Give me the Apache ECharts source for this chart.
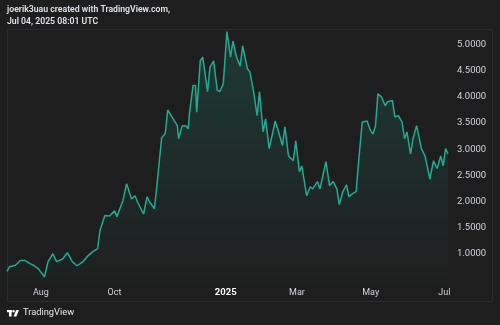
<!DOCTYPE html>
<html>
<head>
<meta charset="utf-8">
<style>
  html, body { margin: 0; padding: 0; background: #1e1e1e; }
  #chart { width: 500px; height: 325px; }
</style>
<script src="https://cdn.jsdelivr.net/npm/echarts@6/dist/echarts.min.js"></script>
</head>
<body>
<div id="chart"></div>
<script>
// Daily close samples, Jul 2024 – Jul 2025
const dates = [
  '2024-07-04','2024-07-06','2024-07-11','2024-07-15','2024-07-19','2024-07-23','2024-07-26','2024-07-30',
  '2024-08-04','2024-08-07','2024-08-11','2024-08-14','2024-08-19','2024-08-20','2024-08-23','2024-08-27','2024-08-31',
  '2024-09-05','2024-09-09','2024-09-13','2024-09-17','2024-09-19','2024-09-23','2024-09-27',
  '2024-10-01','2024-10-03','2024-10-06','2024-10-08','2024-10-11','2024-10-15','2024-10-18','2024-10-20','2024-10-25','2024-10-28','2024-10-30',
  '2024-11-03','2024-11-05','2024-11-09','2024-11-12','2024-11-14','2024-11-18','2024-11-22','2024-11-23','2024-11-26','2024-11-29',
  '2024-12-01','2024-12-02','2024-12-05','2024-12-07','2024-12-08','2024-12-11','2024-12-13','2024-12-17','2024-12-19','2024-12-22','2024-12-25','2024-12-27','2024-12-30',
  '2025-01-02','2025-01-05','2025-01-07','2025-01-10','2025-01-13','2025-01-15','2025-01-19','2025-01-21','2025-01-24','2025-01-27','2025-01-29',
  '2025-02-01','2025-02-03','2025-02-06','2025-02-11','2025-02-13','2025-02-17','2025-02-19','2025-02-22','2025-02-26','2025-02-28',
  '2025-03-03','2025-03-05','2025-03-09','2025-03-12','2025-03-14','2025-03-18','2025-03-20','2025-03-25','2025-03-28','2025-03-31',
  '2025-04-03','2025-04-05','2025-04-08','2025-04-11','2025-04-13','2025-04-16','2025-04-19','2025-04-21','2025-04-24','2025-04-28',
  '2025-05-01','2025-05-03','2025-05-05','2025-05-07','2025-05-10','2025-05-13','2025-05-15','2025-05-19','2025-05-21','2025-05-24','2025-05-27','2025-05-29','2025-05-31',
  '2025-06-03','2025-06-05','2025-06-08','2025-06-12','2025-06-15','2025-06-19','2025-06-22','2025-06-25','2025-06-28','2025-06-30',
  '2025-07-02','2025-07-04'
];
const prices = [
  0.66,0.75,0.78,0.87,0.87,0.81,0.78,0.71,
  0.56,0.85,1.00,0.85,0.90,0.87,1.02,0.85,0.77,
  0.85,0.96,1.04,1.10,1.45,1.73,1.72,
  1.82,1.71,1.90,2.02,2.34,2.05,2.11,1.99,1.76,2.09,1.99,
  1.86,2.29,3.22,3.30,3.75,3.60,3.45,3.20,3.45,3.45,
  3.39,3.68,4.22,4.22,3.71,4.70,4.76,4.10,4.57,4.69,4.13,4.10,4.25,
  5.25,4.76,5.07,4.76,4.59,4.98,4.54,4.48,4.12,3.64,4.10,
  3.33,3.58,3.01,3.54,3.39,3.07,3.43,2.87,2.78,3.16,
  2.57,2.68,2.11,2.28,2.24,2.38,2.24,2.76,2.30,2.38,
  2.24,1.94,2.19,2.32,2.09,2.15,2.19,2.76,3.52,3.54,
  3.35,3.29,3.45,4.06,4.00,3.83,3.91,3.93,3.62,3.64,3.52,3.20,3.33,
  2.91,3.20,3.45,3.01,2.87,2.43,2.78,2.63,2.87,2.68,
  3.01,2.9114
];
const priceTicks = [1.0, 1.5, 2.0, 2.5, 3.0, 3.5, 4.0, 4.5, 5.0];
const monthTicks = ['2024-08-01','2024-10-01','2025-01-01','2025-03-01','2025-05-01','2025-07-01'];
const monthLabels = ['Aug','Oct','2025','Mar','May','Jul'];

const ts = s => Date.parse(s + 'T00:00:00Z');
const lineColor = '#22ab94';
const textColor = '#d1d4dc';
const lastPrice = prices[prices.length - 1];
const tickTimes = monthTicks.map(ts);

const chart = echarts.init(document.getElementById('chart'), null, { renderer: 'canvas' });
chart.setOption({
  animation: false,
  backgroundColor: '#1e1e1e',
  grid: { left: 7, right: 52, top: 29, bottom: 42 },
  xAxis: {
    // linear timestamp scale, labelled at month starts
    type: 'value',
    min: ts(dates[0]),
    max: ts(dates[dates.length - 1]),
    axisLine: { show: false },
    axisTick: { show: false },
    splitLine: { show: false },
    axisLabel: {
      customValues: tickTimes,
      margin: 5,
      color: textColor,
      fontFamily: 'Roboto',
      fontSize: 9,
      formatter: function (v) {
        const i = tickTimes.indexOf(v);
        const t = i >= 0 ? monthLabels[i] : '';
        return /^\d{4}$/.test(t) ? '{y|' + t + '}' : t;
      },
      rich: { y: { fontWeight: 'bold', color: '#ffffff', fontFamily: 'Roboto', fontSize: 9.5 } }
    }
  },
  yAxis: {
    type: 'value',
    position: 'right',
    min: 0.44,
    max: 5.3,
    axisLine: { show: false },
    axisTick: { show: false },
    splitLine: { show: false },
    axisLabel: {
      customValues: priceTicks,
      margin: 9,
      color: textColor,
      fontFamily: 'Roboto',
      fontSize: 9.5,
      formatter: v => v.toFixed(4)
    }
  },
  series: [{
    type: 'line',
    data: dates.map((d, i) => [ts(d), prices[i]]),
    symbol: 'none',
    lineStyle: { color: lineColor, width: 1.5 },
    areaStyle: {
      origin: 'start',
      color: new echarts.graphic.LinearGradient(0, 0, 0, 1, [
        { offset: 0, color: 'rgba(34,171,148,0.28)' },
        { offset: 1, color: 'rgba(34,171,148,0.02)' }
      ])
    },
    markLine: {
      silent: true,
      symbol: 'none',
      data: [{ yAxis: lastPrice }],
      lineStyle: { opacity: 0 },
      label: {
        position: 'end',
        distance: 1,
        formatter: lastPrice.toFixed(4),
        color: '#ffffff',
        backgroundColor: lineColor,
        padding: [2, 5, 1, 6],
        fontFamily: 'Roboto',
        fontSize: 9.5
      }
    }
  }],
  graphic: [
    { type: 'rect', silent: true, shape: { x: 7.5, y: 29.5, width: 485, height: 272 },
      style: { fill: 'none', stroke: '#2c2c2c', lineWidth: 1 } },
    { type: 'text', left: 7, top: 5,
      style: { text: 'joerik3uau created with TradingView.com,', fill: '#e0e3eb',
               font: '600 8.7px Roboto' } },
    { type: 'text', left: 7, top: 17,
      style: { text: 'Jul 04, 2025 08:01 UTC', fill: '#e0e3eb', font: '600 8.7px Roboto' } },
    // TradingView mark
    { type: 'group', left: 7, top: 310, children: [
      { type: 'rect', shape: { x: 0, y: 0, width: 5, height: 2.2 }, style: { fill: '#ffffff' } },
      { type: 'rect', shape: { x: 2, y: 0, width: 2.6, height: 6.5 }, style: { fill: '#ffffff' } },
      { type: 'circle', shape: { cx: 6.6, cy: 1.3, r: 1.3 }, style: { fill: '#ffffff' } },
      { type: 'polygon', shape: { points: [[9.2, 0], [12, 0], [9.3, 6.5], [6.6, 6.5]] }, style: { fill: '#ffffff' } }
    ] },
    { type: 'text', left: 23, top: 308,
      style: { text: 'TradingView', fill: '#e8e8e8', font: '9.3px Roboto' } }
  ]
});
</script>
</body>
</html>
